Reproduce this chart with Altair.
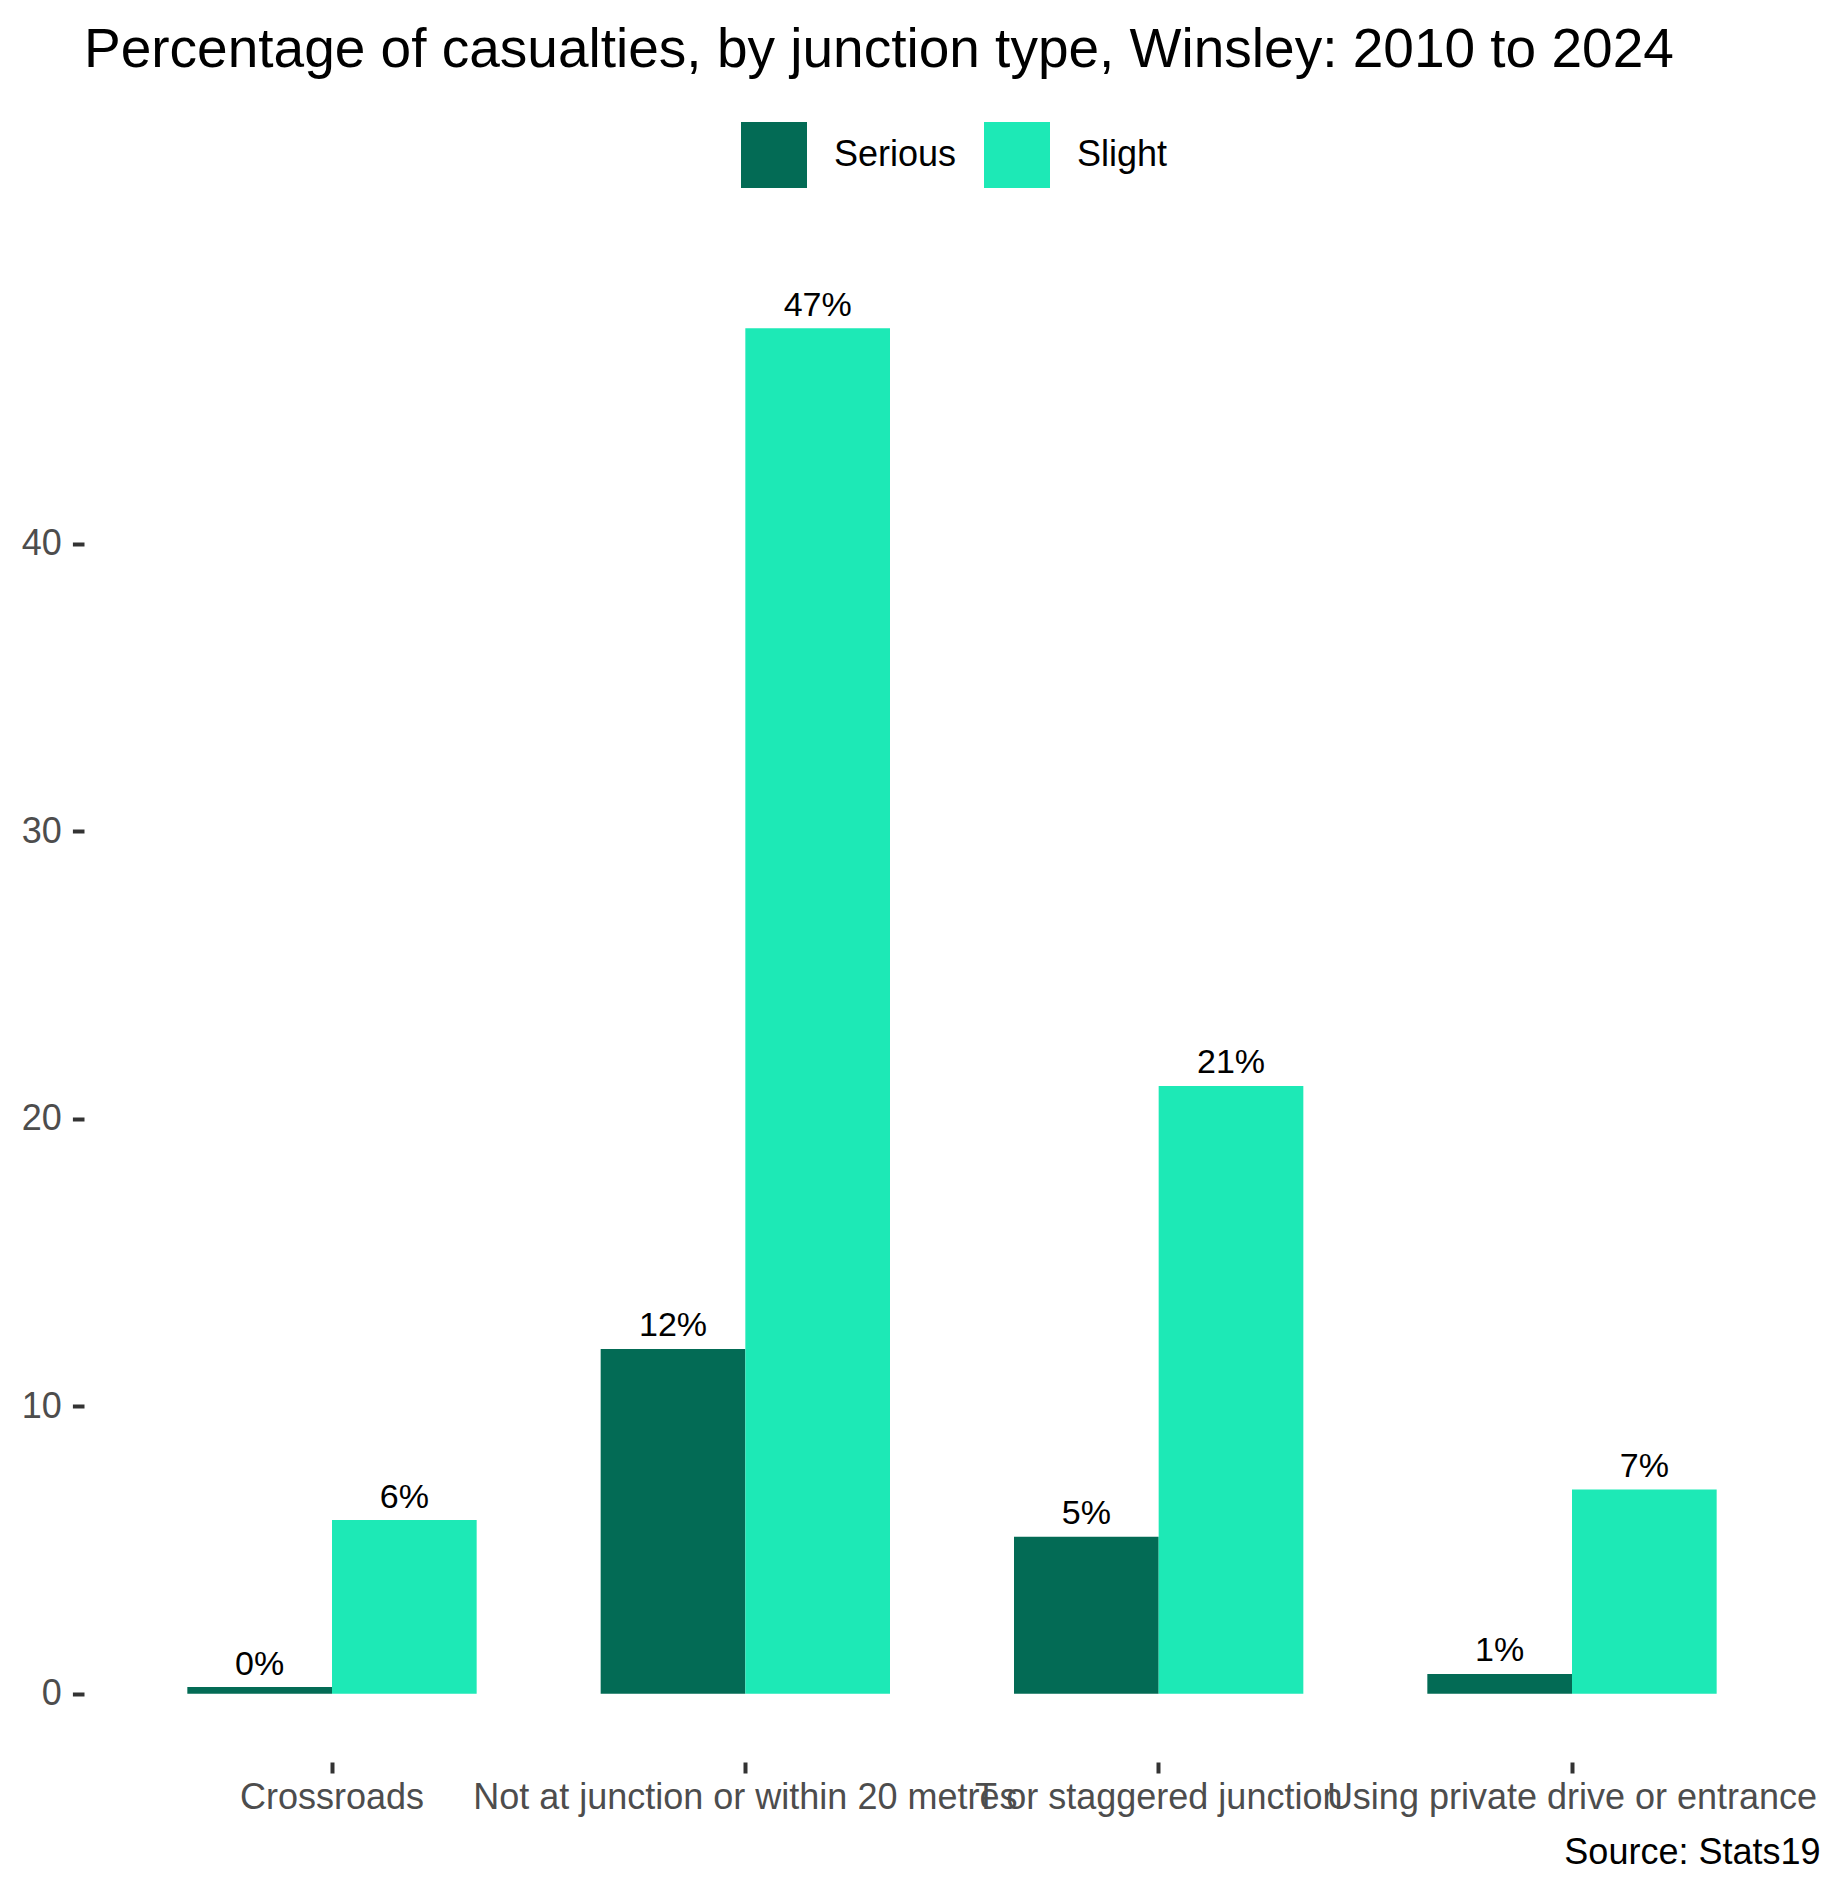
import altair as alt
import pandas as pd

junctions = [
    "Crossroads",
    "Not at junction or within 20 metres",
    "T or staggered junction",
    "Using private drive or entrance",
]
severities = ["Serious", "Slight"]
serious = [0.23, 11.99, 5.46, 0.69]
slight = [6.04, 47.49, 21.14, 7.10]
colors = ["#036b55", "#1de9b6"]

rows = []
for j, se, sl in zip(junctions, serious, slight):
    rows.append({"junction": j, "severity": "Serious", "pct": se, "label": f"{round(se)}%"})
    rows.append({"junction": j, "severity": "Slight", "pct": sl, "label": f"{round(sl)}%"})
df = pd.DataFrame(rows)

ymax = max(max(serious), max(slight))
ydomain = [-0.05 * ymax, ymax * 1.05]

FONT = "Liberation Sans"

x_enc = alt.X(
    "junction:N",
    sort=junctions,
    scale=alt.Scale(paddingInner=0.3, paddingOuter=0.25),
    axis=alt.Axis(
        title="Source: Stats19",
        titleAnchor="end",
        titleAlign="right",
        titleBaseline="alphabetic",
        titleY=101,
        titleFontSize=36,
        titleFontWeight="normal",
        titleColor="#000000",
        titleFont=FONT,
        labelFontSize=36,
        labelColor="#4d4d4d",
        labelFont=FONT,
        labelLimit=0,
        labelAngle=0,
        labelPadding=7,
        labelOverlap=False,
        labelFlush=False,
        labelBound=False,
        tickSize=11,
        tickWidth=4,
        tickColor="#333333",
        domain=False,
        grid=False,
    ),
)
xoff = alt.XOffset("severity:N", sort=severities, scale=alt.Scale(paddingInner=0, paddingOuter=0))
y_enc = alt.Y(
    "pct:Q",
    scale=alt.Scale(domain=ydomain, nice=False, zero=False),
    axis=alt.Axis(
        title=None,
        values=[0, 10, 20, 30, 40],
        labelFontSize=36,
        labelColor="#4d4d4d",
        labelFont=FONT,
        labelPadding=11,
        tickSize=11.6,
        tickWidth=4,
        tickColor="#333333",
        domain=False,
        grid=False,
    ),
)

bars = alt.Chart(df).mark_bar().encode(
    x=x_enc,
    xOffset=xoff,
    y=y_enc,
    y2=alt.datum(0),
    color=alt.Color(
        "severity:N",
        sort=severities,
        scale=alt.Scale(domain=severities, range=colors),
        legend=alt.Legend(
            title=None,
            orient="none",
            legendX=657,
            legendY=-138,
            direction="horizontal",
            symbolType="square",
            symbolSize=4356,
            symbolStrokeWidth=0,
            labelFontSize=36,
            labelFont=FONT,
            labelColor="#000000",
            labelOffset=27,
            columnPadding=27,
            padding=0,
        ),
    ),
)

labels = alt.Chart(df).mark_text(
    baseline="alphabetic", dy=-12.5, fontSize=34, font=FONT, color="#000000"
).encode(
    x=alt.X("junction:N", sort=junctions),
    xOffset=alt.XOffset("severity:N", sort=severities),
    y=alt.Y("pct:Q"),
    text="label:N",
)

chart = (
    alt.layer(bars, labels)
    .properties(
        width=1736,
        height=1502,
        autosize=alt.AutoSizeParams(type="none"),
        padding={"left": 76, "top": 252, "right": 15, "bottom": 124},
        title=alt.TitleParams(
            "Percentage of casualties, by junction type, Winsley: 2010 to 2024",
            anchor="start",
            fontSize=55,
            font=FONT,
            fontWeight="normal",
            color="#000000",
            baseline="alphabetic",
            offset=0,
            frame="group",
        ),
        background="white",
    )
    .configure_view(stroke=None)
)

chart.save("out.html", embed_options={"renderer": "svg", "actions": False})
